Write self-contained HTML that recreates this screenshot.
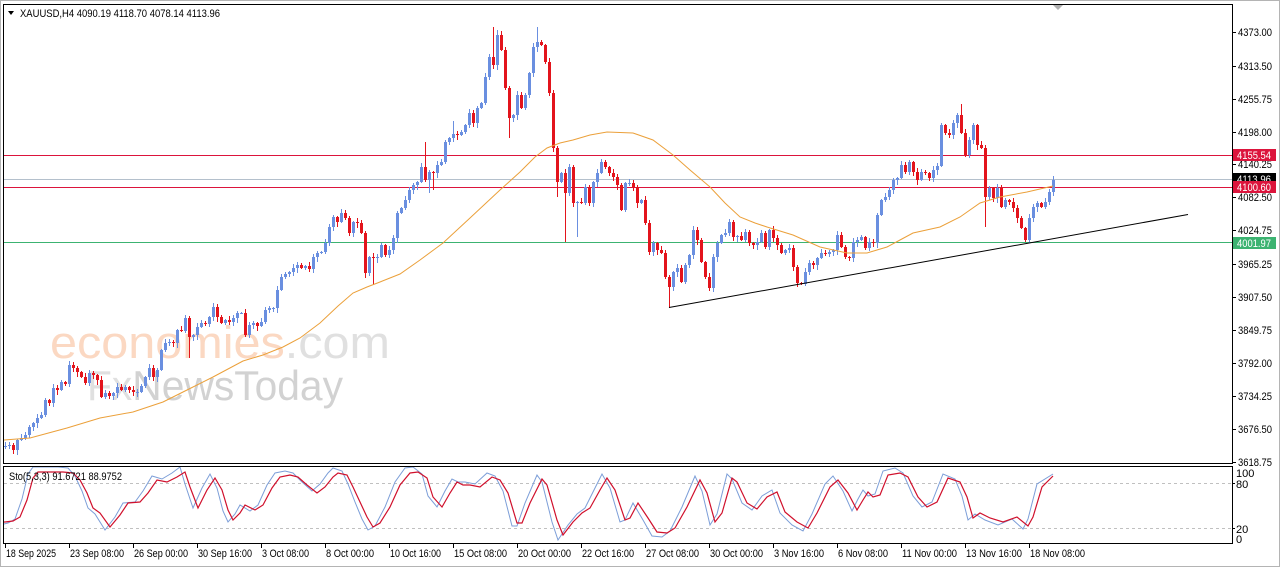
<!DOCTYPE html>
<html><head><meta charset="utf-8">
<style>
html,body{margin:0;padding:0;background:#fff;}
body{width:1280px;height:567px;overflow:hidden;}
svg{display:block;}
text{font-family:"Liberation Sans","DejaVu Sans",sans-serif;}
</style></head>
<body>
<svg id="c" width="1280" height="567" viewBox="0 0 1280 567" xmlns="http://www.w3.org/2000/svg">
<defs>
<clipPath id="mc"><rect x="4" y="5" width="1228" height="458"/></clipPath>
<clipPath id="sc"><rect x="4" y="467" width="1228" height="76"/></clipPath>
</defs>
<rect x="0" y="0" width="1280" height="567" fill="#fff"/>
<rect x="0.5" y="0.5" width="1279" height="566" fill="none" stroke="#B4B4B4"/>

<!-- watermark -->
<text x="50" y="358" font-size="45" textLength="340" lengthAdjust="spacingAndGlyphs" fill="#FBD8C2"><tspan>economies</tspan><tspan fill="#E0E0E0">.com</tspan></text>
<text x="87" y="400" font-size="42" textLength="256" lengthAdjust="spacingAndGlyphs" fill="#D2D2D2"><tspan fill="#E0E0E0">Fx</tspan><tspan>NewsToday</tspan></text>

<!-- horizontal levels -->
<rect x="4" y="155" width="1228" height="1" fill="#DC143C"/>
<rect x="4" y="179" width="1228" height="1" fill="#B4C0CC"/>
<rect x="4" y="187" width="1228" height="1" fill="#DC143C"/>
<rect x="4" y="242" width="1228" height="1" fill="#3CB371"/>

<g id="candles" clip-path="url(#mc)"></g>

<!-- MA -->
<polyline clip-path="url(#mc)" fill="none" stroke="#EBA03A" stroke-width="1" points="4,440 30,438 67,428 100,418 133,412 163,402 187,390 213,377 243,361 263,355 283,347 300,338 320,323 338,306 353,293 367,287 380,282 400,274 420,260 443,243 470,218 500,190 520,172 535,157 547,148 560,143 573,140 590,135 607,132 633,133 653,140 673,155 690,170 710,187 725,203 740,217 755,223 767,227 793,235 820,247 847,253 867,253 887,247 900,240 913,233 940,227 960,217 980,203 1000,197 1027,192 1053,186"/>

<!-- trend line -->
<line x1="669" y1="307.5" x2="1188" y2="214.5" stroke="#000" stroke-width="1"/>

<!-- frames -->
<rect x="3.5" y="4.5" width="1229" height="459" fill="none" stroke="#000"/>
<rect x="3.5" y="466.5" width="1229" height="77" fill="none" stroke="#000"/>

<!-- header -->
<polygon points="8,11 14,11 11,15" fill="#000"/>
<text x="20" y="17" font-size="11" textLength="200" lengthAdjust="spacingAndGlyphs" fill="#000">XAUUSD,H4  4090.19 4118.70 4078.14 4113.96</text>
<polygon points="1053,5 1063,5 1058,10" fill="#B0B0B0"/>

<!-- stochastic -->
<line x1="4" y1="483.5" x2="1232" y2="483.5" stroke="#C0C0C0" stroke-dasharray="3,3"/>
<line x1="4" y1="528.5" x2="1232" y2="528.5" stroke="#C0C0C0" stroke-dasharray="3,3"/>
<g id="stoch" clip-path="url(#sc)"></g>
<text x="9" y="480" font-size="11" textLength="113" lengthAdjust="spacingAndGlyphs" fill="#000">Sto(5,3,3) 91.6721 88.9752</text>

<g id="axis"></g>
</svg>
<script>
(function(){
function r(x,y,w,h,f){return '<rect x="'+x+'" y="'+y+'" width="'+w+'" height="'+h+'" fill="'+f+'"/>';}
var C=[446,445,450,440,438,435,427,423,418,415,
400,403,388,390,382,384,365,368,372,377,
383,373,375,380,397,393,396,393,387,390,
387,390,392,392,386,377,368,377,370,350,
343,342,343,330,331,318,337,335,327,323,
324,317,307,317,323,320,322,318,313,313,
335,325,323,326,322,310,308,308,290,277,
274,272,268,265,268,266,269,257,253,252,
243,227,217,222,213,218,233,222,223,233,
273,257,258,257,245,255,250,238,213,208,
200,190,185,182,167,180,172,173,165,162,
142,138,134,135,132,125,113,123,108,103,
77,57,65,35,50,88,118,115,95,108,
95,73,47,42,45,62,93,148,182,173,
193,167,203,202,203,187,203,182,173,162,
167,173,177,185,210,183,183,187,203,200,
223,252,243,250,253,277,287,272,268,282,
265,255,230,240,262,277,288,257,243,235,
233,222,237,236,240,232,243,245,242,233,
247,230,238,245,253,250,248,267,283,284,
272,263,265,258,253,254,252,250,235,247,
257,258,242,240,237,248,242,243,215,200,
197,190,180,178,165,172,162,172,180,172,
173,178,170,166,125,133,135,123,115,133,
155,140,125,145,148,197,188,198,188,207,
200,202,208,218,228,240,218,207,203,207,
202,192,180];
var H={106:142,113:121,123:27,124:30,134:27,240:104,263:176};
var L={47:358,91:278,93:285,107:193,108:190,127:138,139:197,141:242,144:237,167:308,199:287,246:227};
var out='';
for(var k=0;k<C.length;k++){
 var i=k+1,x=1+4*i,c=C[k],o=k?C[k-1]:447;
 var top=Math.min(o,c),bot=Math.max(o,c);
 var col=c>o?'#E3141C':'#6A8FE0';
 var hi=H[i]!==undefined?H[i]:top-(1+(i*7)%4);
 var lo=L[i]!==undefined?L[i]:bot+(1+(i*11)%5);
 out+=r(x,hi,1,lo-hi,col)+r(x-1,top,3,Math.max(1,bot-top),col);
}
document.getElementById('candles').innerHTML=out;

var R=[[4,522],[5,522],[13,521],[20,517],[27,500],[33,478],[38,472],[50,472],[63,472],[73,473],[80,480],[87,493],[93,508],[100,513],[110,527],[120,515],[128,503],[140,502],[148,493],[157,480],[167,482],[177,477],[185,472],[190,487],[198,508],[207,490],[215,478],[222,490],[228,510],[233,520],[240,513],[245,505],[255,510],[263,505],[272,488],[280,477],[290,475],[298,477],[307,485],[317,493],[325,487],[333,477],[338,473],[347,475],[353,487],[360,502],[367,517],[373,527],[380,523],[390,507],[400,485],[410,473],[418,472],[427,478],[433,497],[442,507],[450,493],[457,482],[463,485],[470,485],[480,487],[492,477],[500,480],[508,493],[517,523],[522,523],[530,503],[542,479],[547,485],[557,520],[563,535],[573,522],[582,513],[590,508],[600,490],[607,478],[615,490],[625,520],[630,518],[638,503],[648,518],[657,532],[667,533],[675,528],[687,507],[700,480],[707,493],[715,522],[722,513],[732,478],[737,482],[747,503],[757,509],[767,497],[777,492],[785,512],[797,522],[808,528],[817,513],[830,487],[838,480],[848,493],[857,510],[863,500],[868,492],[873,497],[880,495],[888,475],[900,473],[908,477],[918,497],[927,507],[937,502],[948,478],[960,482],[967,497],[973,518],[980,513],[990,518],[1003,522],[1017,517],[1028,526],[1033,517],[1042,487],[1053,476]];
var pr=R.map(function(p){return p[0]+','+p[1];}).join(' ');
var B=R.slice(0,R.length-1).map(function(p){return [p[0]-5,Math.max(467,Math.min(542,Math.round(505+(p[1]-505)*1.15)))];});
B.push([1053,474]);
var pb=B.map(function(p){return p[0]+','+p[1];}).join(' ');
document.getElementById('stoch').innerHTML='<polyline fill="none" stroke="#7C9ED8" stroke-width="1" points="'+pb+'"/><polyline fill="none" stroke="#D0102C" stroke-width="1.2" points="'+pr+'"/>';

var a='';
var P=[['4373.00',32],['4313.50',66],['4255.75',99],['4198.00',132],['4140.25',164],['4082.50',197],['4024.75',230],['3965.25',264],['3907.50',297],['3849.75',330],['3792.00',363],['3734.25',396],['3676.50',429],['3618.75',462]];
P.forEach(function(p){a+='<line x1="1232" y1="'+(p[1]+0.5)+'" x2="1236" y2="'+(p[1]+0.5)+'" stroke="#000"/><text x="1238" y="'+(p[1]+4)+'" font-size="11" textLength="34" lengthAdjust="spacingAndGlyphs" fill="#000">'+p[0]+'</text>';});
function box(t,y,bg){return r(1233,y-6,43,12,bg)+'<text x="1237" y="'+(y+4)+'" font-size="11" textLength="34" lengthAdjust="spacingAndGlyphs" fill="#fff">'+t+'</text>';}
a+=box('4155.54',155,'#DC143C');
a+=box('4113.96',179,'#000');
a+=box('4100.60',187,'#DC143C');
a+=box('4001.97',243,'#3CB371');
var S=[['100',473],['80',484],['20',529],['0',539]];
S.forEach(function(s){a+='<text x="1236" y="'+(s[1]+4)+'" font-size="11" fill="#000">'+s[0]+'</text>';});
a+='<line x1="1232" y1="483.5" x2="1235" y2="483.5" stroke="#000"/><line x1="1232" y1="528.5" x2="1235" y2="528.5" stroke="#000"/>';
var T=[['18 Sep 2025',5,50],['23 Sep 08:00',69,54],['26 Sep 00:00',133,54],['30 Sep 16:00',197,54],['3 Oct 08:00',261,47],['8 Oct 00:00',325,48],['10 Oct 16:00',389,51],['15 Oct 08:00',453,53],['20 Oct 00:00',517,53],['22 Oct 16:00',581,52],['27 Oct 08:00',645,53],['30 Oct 00:00',709,53],['3 Nov 16:00',773,50],['6 Nov 08:00',837,50],['11 Nov 00:00',901,55],['13 Nov 16:00',965,56],['18 Nov 08:00',1029,55]];
T.forEach(function(t){a+='<line x1="'+(t[1]+0.5)+'" y1="544" x2="'+(t[1]+0.5)+'" y2="548" stroke="#000"/><text x="'+(t[1]+1)+'" y="557" font-size="11" textLength="'+t[2]+'" lengthAdjust="spacingAndGlyphs" fill="#000">'+t[0]+'</text>';});
document.getElementById('axis').innerHTML=a;
})();
</script>
</body></html>
